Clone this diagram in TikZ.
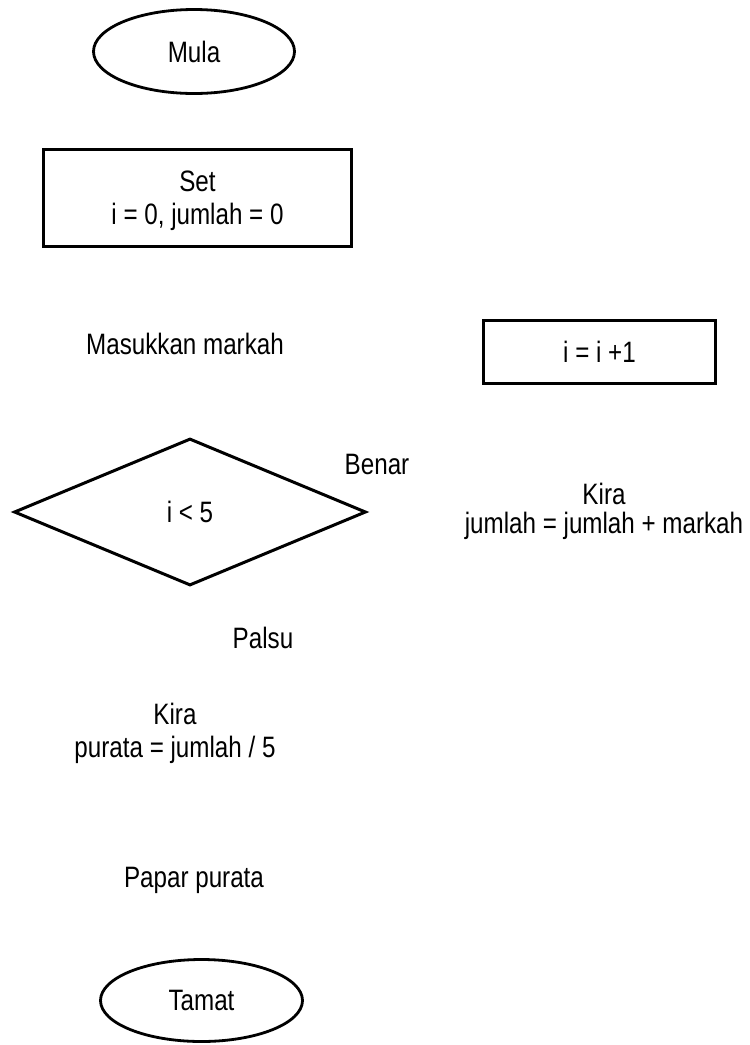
\documentclass[tikz,border=0pt]{standalone}
\usepackage{fontspec}
\setmainfont{Liberation Sans}[FakeStretch=0.82]
\usetikzlibrary{shapes.geometric}
\begin{document}
\begin{tikzpicture}[x=1pt,y=-1pt,
  every node/.style={font=\fontsize{29.5}{33}\selectfont, inner sep=0pt},
  term/.style={draw, ellipse, line width=2.8pt},
  procbox/.style={draw, rectangle, line width=3pt},
  decision/.style={draw, diamond, line width=3pt, minimum width=352pt, minimum height=147pt},
  plain/.style={align=center, text depth=0pt, anchor=south}]
\useasboundingbox (0,0) rectangle (750,1045);
\node[term, minimum width=201pt, minimum height=84pt] (mula) at (194,51.5) {Mula};
\node[procbox, minimum width=308pt, minimum height=97pt, align=center, text depth=0pt] (set) at (197.5,198) {Set\\i = 0, jumlah = 0};
\node[plain] (input) at (185,355) {Masukkan markah};
\node[procbox, minimum width=232pt, minimum height=63pt] (inc) at (599.5,352) {i = i +1};
\node[decision] (cond) at (190,512) {i < 5};
\node[plain] (benar) at (377,475) {Benar};
\node[plain] (sum) at (604,534) {Kira\\[-4pt]jumlah = jumlah + markah};
\node[plain] (palsu) at (263,649) {Palsu};
\node[plain] (avg) at (175,758) {Kira\\purata = jumlah / 5};
\node[plain] (show) at (194,888) {Papar purata};
\node[term, minimum width=202pt, minimum height=82pt] (tamat) at (201.5,1000.5) {Tamat};
\end{tikzpicture}
\end{document}
